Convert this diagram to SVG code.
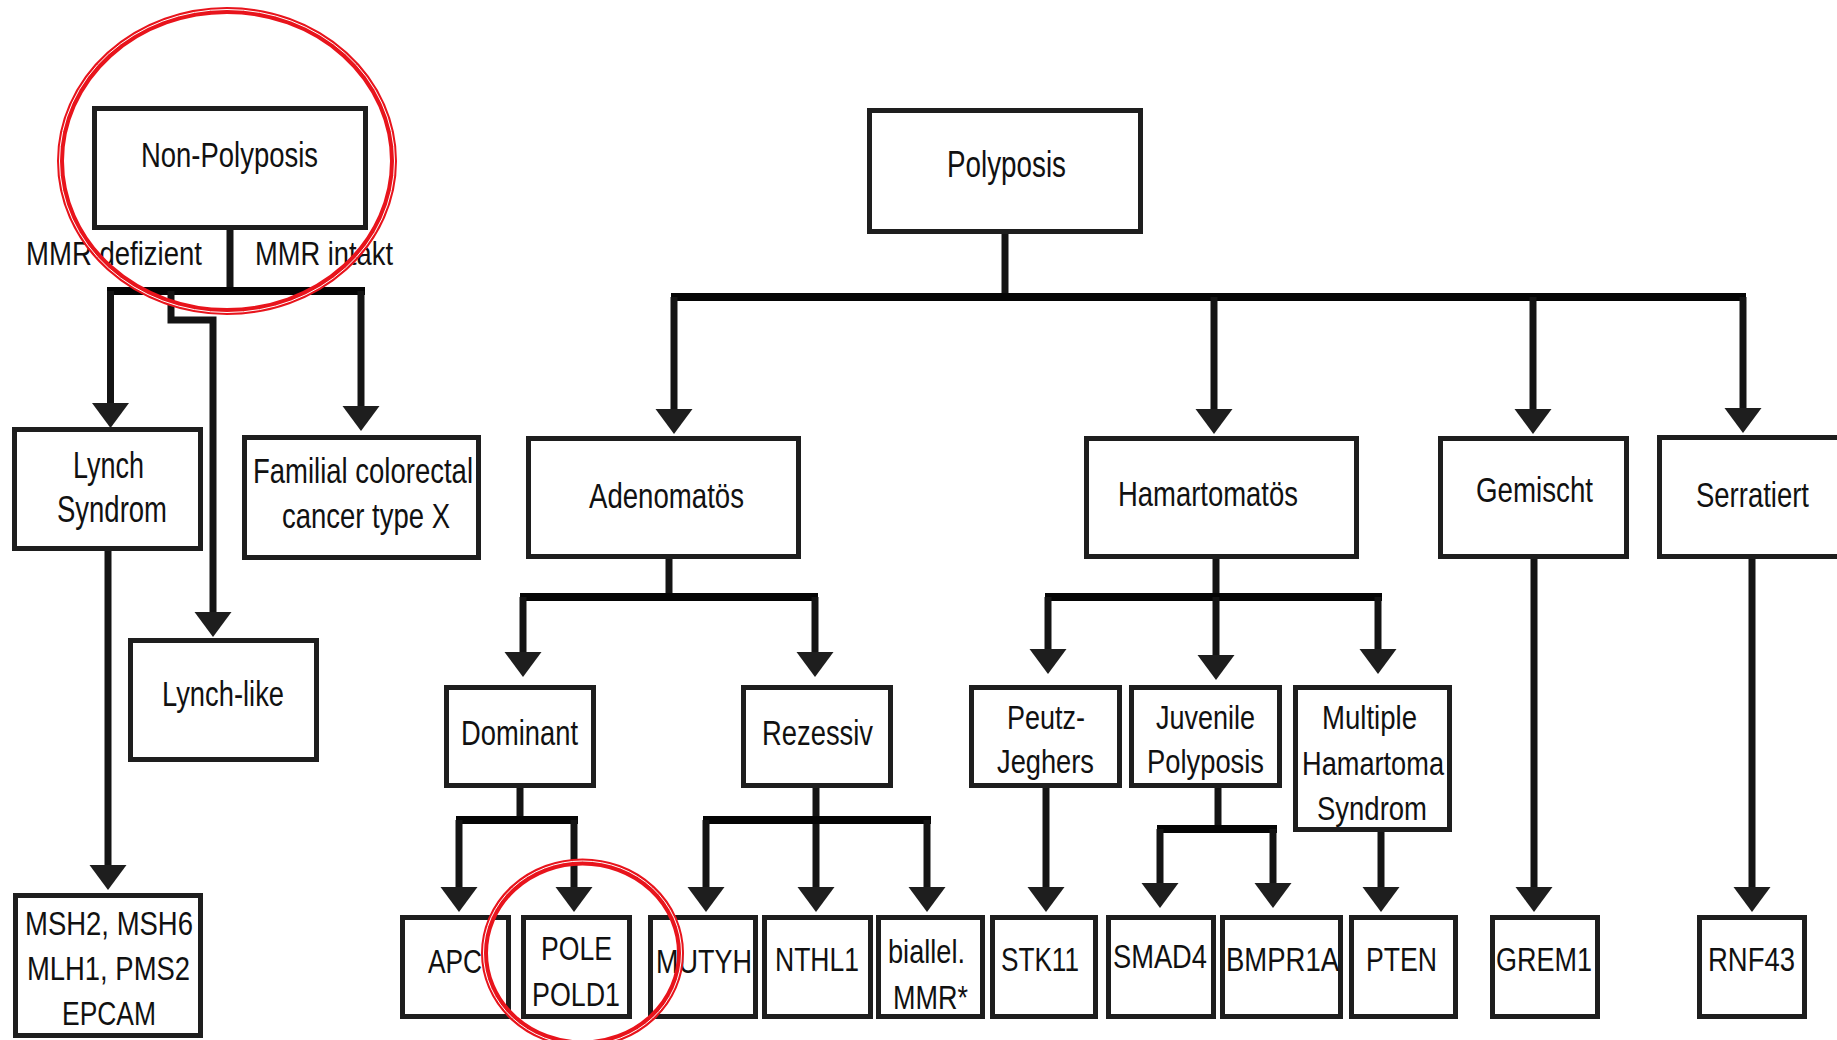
<svg xmlns="http://www.w3.org/2000/svg" xmlns:xlink="http://www.w3.org/1999/xlink" width="1837" height="1040" viewBox="0 0 1837 1040">
<defs>
<style>
.box{fill:#fff;stroke:#1e1e1e;stroke-width:5}
.t{font-family:"Liberation Sans",Arial,sans-serif;font-size:35px;fill:#111}
.s{font-size:34px}
.c{fill:none;stroke:#141414;stroke-width:7}
.bar{fill:none;stroke:#050505;stroke-width:8}
.ring{fill:none;stroke:#e8141c;stroke-width:7}
.ringw{fill:none;stroke:#fff;stroke-width:1}
</style>
<path id="ah" d="M-18.5,-25 L18.5,-25 L0,0 Z" fill="#1e1e1e"/>
</defs>
<rect width="1837" height="1040" fill="#fff"/>

<g id="connectors">
<!-- Non-Polyposis -->
<path class="c" d="M230,230 V291"/>
<path class="bar" d="M107,291 H365"/>
<path class="c" d="M110.5,291 V410"/>
<use xlink:href="#ah" x="110.5" y="428"/>
<path class="c" d="M171,291 V320 H213 V620"/>
<use xlink:href="#ah" x="213" y="637"/>
<path class="c" d="M361,291 V412"/>
<use xlink:href="#ah" x="361" y="431"/>
<path class="c" d="M108,551 V872"/>
<use xlink:href="#ah" x="108" y="890"/>
<!-- Polyposis -->
<path class="c" d="M1005,234 V297"/>
<path class="bar" d="M671,297 H1746"/>
<path class="c" d="M674,297 V415"/>
<use xlink:href="#ah" x="674" y="434"/>
<path class="c" d="M1214,297 V415"/>
<use xlink:href="#ah" x="1214" y="434"/>
<path class="c" d="M1533,297 V415"/>
<use xlink:href="#ah" x="1533" y="434"/>
<path class="c" d="M1743,297 V415"/>
<use xlink:href="#ah" x="1743" y="433"/>
<!-- Adenomatös -->
<path class="c" d="M669,559 V597"/>
<path class="bar" d="M520,597 H818"/>
<path class="c" d="M523,597 V660"/>
<use xlink:href="#ah" x="523" y="677"/>
<path class="c" d="M815,597 V660"/>
<use xlink:href="#ah" x="815" y="677"/>
<!-- Hamartomatös -->
<path class="c" d="M1216,559 V597"/>
<path class="bar" d="M1045,597 H1382"/>
<path class="c" d="M1048,597 V656"/>
<use xlink:href="#ah" x="1048" y="674"/>
<path class="c" d="M1216,597 V662"/>
<use xlink:href="#ah" x="1216" y="680"/>
<path class="c" d="M1378,597 V656"/>
<use xlink:href="#ah" x="1378" y="674"/>
<!-- Dominant -->
<path class="c" d="M520,788 V820"/>
<path class="bar" d="M456,820 H578"/>
<path class="c" d="M459,820 V895"/>
<use xlink:href="#ah" x="459" y="912"/>
<path class="c" d="M574,820 V895"/>
<use xlink:href="#ah" x="574" y="912"/>
<!-- Rezessiv -->
<path class="c" d="M816,788 V895"/>
<path class="bar" d="M703,820 H931"/>
<path class="c" d="M706,820 V895"/>
<use xlink:href="#ah" x="706" y="912"/>
<use xlink:href="#ah" x="816" y="912"/>
<path class="c" d="M927,820 V895"/>
<use xlink:href="#ah" x="927" y="912"/>
<!-- Peutz -->
<path class="c" d="M1046,788 V895"/>
<use xlink:href="#ah" x="1046" y="912"/>
<!-- Juvenile -->
<path class="c" d="M1218,788 V829"/>
<path class="bar" d="M1157,829 H1277"/>
<path class="c" d="M1160,829 V892"/>
<use xlink:href="#ah" x="1160" y="908"/>
<path class="c" d="M1273,829 V892"/>
<use xlink:href="#ah" x="1273" y="908"/>
<!-- Multiple -->
<path class="c" d="M1381,832 V895"/>
<use xlink:href="#ah" x="1381" y="912"/>
<!-- Gemischt, Serratiert -->
<path class="c" d="M1534,559 V895"/>
<use xlink:href="#ah" x="1534" y="912"/>
<path class="c" d="M1752,558 V895"/>
<use xlink:href="#ah" x="1752" y="912"/>
</g>

<g id="non-polyposis"><rect class="box" x="94.5" y="108.5" width="271" height="119"/><text class="t" x="141" y="167" textLength="177" lengthAdjust="spacingAndGlyphs">Non-Polyposis</text></g>
<g id="label-mmr-defizient"><text class="t s" x="26" y="265" textLength="176" lengthAdjust="spacingAndGlyphs">MMR defizient</text></g>
<g id="label-mmr-intakt"><text class="t s" x="255" y="265" textLength="138" lengthAdjust="spacingAndGlyphs">MMR intakt</text></g>
<g id="lynch-syndrom"><rect class="box" x="14.5" y="429.5" width="186" height="119"/><text class="t" style="font-size:37px" x="73" y="478" textLength="71" lengthAdjust="spacingAndGlyphs">Lynch</text><text class="t" style="font-size:37px" x="57" y="522" textLength="110" lengthAdjust="spacingAndGlyphs">Syndrom</text></g>
<g id="fccx"><rect class="box" x="244.5" y="437.5" width="234" height="120"/><text class="t" x="253" y="483" textLength="220" lengthAdjust="spacingAndGlyphs">Familial colorectal</text><text class="t" x="282" y="528" textLength="168" lengthAdjust="spacingAndGlyphs">cancer type X</text></g>
<g id="lynch-like"><rect class="box" x="130.5" y="640.5" width="186" height="119"/><text class="t" x="162" y="706" textLength="122" lengthAdjust="spacingAndGlyphs">Lynch-like</text></g>
<g id="mmr-genes"><rect class="box" x="15.5" y="895.5" width="185" height="140"/><text class="t" style="font-size:33px" x="25" y="935" textLength="168" lengthAdjust="spacingAndGlyphs">MSH2, MSH6</text><text class="t" style="font-size:33px" x="27" y="980" textLength="163" lengthAdjust="spacingAndGlyphs">MLH1, PMS2</text><text class="t" style="font-size:33px" x="62" y="1025" textLength="94" lengthAdjust="spacingAndGlyphs">EPCAM</text></g>

<g id="polyposis"><rect class="box" x="869.5" y="110.5" width="271" height="121"/><text class="t" style="font-size:36px" x="947" y="177" textLength="119" lengthAdjust="spacingAndGlyphs">Polyposis</text></g>
<g id="adenomatoes"><rect class="box" x="528.5" y="438.5" width="270" height="118"/><text class="t" x="589" y="508" textLength="155" lengthAdjust="spacingAndGlyphs">Adenomatös</text></g>
<g id="hamartomatoes"><rect class="box" x="1086.5" y="438.5" width="270" height="118"/><text class="t" x="1118" y="506" textLength="180" lengthAdjust="spacingAndGlyphs">Hamartomatös</text></g>
<g id="gemischt"><rect class="box" x="1440.5" y="438.5" width="186" height="118"/><text class="t" x="1476" y="502" textLength="117" lengthAdjust="spacingAndGlyphs">Gemischt</text></g>
<g id="serratiert"><rect class="box" x="1659.5" y="437.5" width="250" height="119"/><text class="t" x="1696" y="507" textLength="113" lengthAdjust="spacingAndGlyphs">Serratiert</text></g>

<g id="dominant"><rect class="box" x="446.5" y="687.5" width="147" height="98"/><text class="t" x="461" y="745" textLength="117" lengthAdjust="spacingAndGlyphs">Dominant</text></g>
<g id="rezessiv"><rect class="box" x="743.5" y="687.5" width="147" height="98"/><text class="t" x="762" y="745" textLength="111" lengthAdjust="spacingAndGlyphs">Rezessiv</text></g>
<g id="peutz-jeghers"><rect class="box" x="971.5" y="687.5" width="148" height="98"/><text class="t s" x="1007" y="729" textLength="78" lengthAdjust="spacingAndGlyphs">Peutz-</text><text class="t s" x="997" y="773" textLength="97" lengthAdjust="spacingAndGlyphs">Jeghers</text></g>
<g id="juvenile-polyposis"><rect class="box" x="1131.5" y="687.5" width="148" height="98"/><text class="t s" x="1156" y="729" textLength="99" lengthAdjust="spacingAndGlyphs">Juvenile</text><text class="t s" x="1147" y="773" textLength="117" lengthAdjust="spacingAndGlyphs">Polyposis</text></g>
<g id="multiple-hamartoma"><rect class="box" x="1295.5" y="687.5" width="154" height="142"/><text class="t s" x="1322" y="729" textLength="95" lengthAdjust="spacingAndGlyphs">Multiple</text><text class="t s" x="1302" y="775" textLength="142" lengthAdjust="spacingAndGlyphs">Hamartoma</text><text class="t s" x="1317" y="820" textLength="110" lengthAdjust="spacingAndGlyphs">Syndrom</text></g>

<g id="apc"><rect class="box" x="402.5" y="917.5" width="106" height="99"/><text class="t s" x="428" y="973" textLength="54" lengthAdjust="spacingAndGlyphs">APC</text></g>
<g id="pole-pold1"><rect class="box" x="523.5" y="917.5" width="106" height="99"/><text class="t s" x="541" y="960" textLength="71" lengthAdjust="spacingAndGlyphs">POLE</text><text class="t s" x="532" y="1006" textLength="88" lengthAdjust="spacingAndGlyphs">POLD1</text></g>
<g id="mutyh"><rect class="box" x="650.5" y="917.5" width="105" height="99"/><text class="t s" x="656" y="973" textLength="96" lengthAdjust="spacingAndGlyphs">MUTYH</text></g>
<g id="nthl1"><rect class="box" x="764.5" y="917.5" width="106" height="99"/><text class="t s" x="775" y="971" textLength="84" lengthAdjust="spacingAndGlyphs">NTHL1</text></g>
<g id="biallel-mmr"><rect class="box" x="878.5" y="917.5" width="104" height="99"/><text class="t s" x="888" y="963" textLength="77" lengthAdjust="spacingAndGlyphs">biallel.</text><text class="t s" x="893" y="1009" textLength="75" lengthAdjust="spacingAndGlyphs">MMR*</text></g>
<g id="stk11"><rect class="box" x="992.5" y="917.5" width="103" height="99"/><text class="t s" x="1001" y="971" textLength="78" lengthAdjust="spacingAndGlyphs">STK11</text></g>
<g id="smad4"><rect class="box" x="1108.5" y="917.5" width="105" height="99"/><text class="t s" x="1113" y="968" textLength="94" lengthAdjust="spacingAndGlyphs">SMAD4</text></g>
<g id="bmpr1a"><rect class="box" x="1222.5" y="917.5" width="118" height="99"/><text class="t s" x="1226" y="971" textLength="113" lengthAdjust="spacingAndGlyphs">BMPR1A</text></g>
<g id="pten"><rect class="box" x="1351.5" y="917.5" width="104" height="99"/><text class="t s" x="1366" y="971" textLength="71" lengthAdjust="spacingAndGlyphs">PTEN</text></g>
<g id="grem1"><rect class="box" x="1492.5" y="917.5" width="105" height="99"/><text class="t s" x="1496" y="971" textLength="96" lengthAdjust="spacingAndGlyphs">GREM1</text></g>
<g id="rnf43"><rect class="box" x="1699.5" y="917.5" width="105" height="99"/><text class="t s" x="1708" y="971" textLength="87" lengthAdjust="spacingAndGlyphs">RNF43</text></g>

<g id="highlights">
<ellipse class="ring" cx="227" cy="161" rx="166.5" ry="150.5"/>
<ellipse class="ringw" cx="227" cy="161" rx="167.5" ry="151.5"/>
<ellipse class="ring" cx="582.5" cy="953" rx="98" ry="91"/>
<ellipse class="ringw" cx="582.5" cy="953" rx="99" ry="92"/>
</g>
</svg>
